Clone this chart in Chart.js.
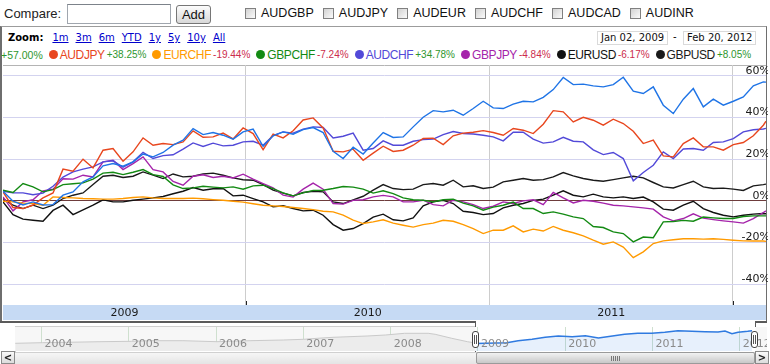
<!DOCTYPE html>
<html>
<head>
<meta charset="utf-8">
<title>AUDUSD compare</title>
<script src="https://cdn.jsdelivr.net/npm/chart.js@4.4.1/dist/chart.umd.min.js"></script>
<style>
  body { margin: 0; width: 770px; height: 364px; position: relative; overflow: hidden; background: #fff; font-family: Arial, "Liberation Sans", sans-serif; }
  .abs { position: absolute; }
  #compare { left: 4px; top: 6px; font-size: 13px; color: #222; }
  #box { left: 67px; top: 4px; width: 102px; height: 18px; border: 1px solid #a0a6ae; border-top-color: #7c828a; background: #fff; }
  #add { left: 176px; top: 5px; width: 33px; height: 17px; border: 1px solid #767676; border-radius: 3px; background: linear-gradient(#fcfcfc, #d8d8d8); font-size: 13px; text-align: center; line-height: 17px; color: #111; }
  #picks { left: 245px; top: 6px; display: flex; font-size: 12.5px; color: #111; }
  .pick { display: flex; align-items: center; margin-right: 9px; }
  .cb { width: 9px; height: 9px; border: 1px solid #808080; background: linear-gradient(135deg, #d2d2d2, #fbfbfb); margin-right: 5px; }
  #frame { left: 0; top: 26px; width: 764px; height: 295px; border-left: 2px solid #6e6e6e; border-top: 1px solid #9c9c9c; border-right: 1px solid #6e6e6e; }
  #zoomrow { left: 8px; top: 32px; display: flex; font-family: "DejaVu Sans", Verdana, sans-serif; font-size: 10px; }
  #zoomrow b { margin-right: 9px; color: #000; }
  #zoomrow a { color: #0000cc; text-decoration: underline; margin-right: 7px; }
  .datebox { top: 31px; height: 12px; border: 1px solid #dadada; font-family: "DejaVu Sans", Verdana, sans-serif; font-size: 10px; line-height: 12px; padding: 0 3px; color: #111; }
  #dash { left: 673px; top: 31px; font-family: "DejaVu Sans", sans-serif; font-size: 10px; }
  #legend { left: 1px; top: 48px; display: flex; align-items: center; white-space: nowrap; height: 13px; }
  .pct { font-size: 10px; }
  .dot { width: 9px; height: 9px; border-radius: 50%; margin: 0 2px 0 6px; }
  .nm { font-size: 12px; margin-right: 2px; letter-spacing: -0.4px; }
  #main { left: 0; top: 62px; }
  #nav { left: 15px; top: 327px; }
  .dark { background: #5a5a5a; }
  .navline { background: #cfcfcf; }
  #track { left: 15px; top: 352px; width: 740px; height: 11px; background: linear-gradient(#f6f6f6, #e4e4e4); border-top: 1px solid #d0d0d0; }
  .btn { top: 351px; width: 12px; height: 11px; border: 1px solid #8a8a8a; background: linear-gradient(#fafafa, #dcdcdc); font: bold 10px "DejaVu Sans", sans-serif; line-height: 11px; text-align: center; color: #222; }
  #thumb { left: 476px; top: 352px; width: 277px; height: 10px; border: 1px solid #9a9a9a; border-radius: 2px; background: linear-gradient(#f2f2f2, #c8c8c8); }
  #grip { left: 134px; top: 3px; width: 9px; height: 5px; background: repeating-linear-gradient(90deg, #777 0 1px, transparent 1px 2px); }
  .handle { top: 331px; width: 5px; height: 15px; border: 1px solid #444; border-radius: 3px; background: #fff; }
  .handle div { position: absolute; left: 1px; top: 3px; width: 3px; height: 9px; border-left: 1px solid #555; border-right: 1px solid #555; box-sizing: border-box; }
</style>
</head>
<body>
<div id="compare" class="abs">Compare:</div>
<div id="box" class="abs"></div>
<div id="add" class="abs">Add</div>
<div id="picks" class="abs"></div>

<div id="frame" class="abs"></div>
<div id="zoomrow" class="abs"><b>Zoom:</b><a>1m</a><a>3m</a><a>6m</a><a>YTD</a><a>1y</a><a>5y</a><a>10y</a><a>All</a></div>
<div class="abs datebox" style="left:597px">Jan 02, 2009</div>
<div id="dash" class="abs">-</div>
<div class="abs datebox" style="left:683px">Feb 20, 2012</div>
<div id="legend" class="abs"></div>

<canvas id="main" class="abs" width="768" height="260"></canvas>

<div class="abs dark" style="left:0;top:321px;width:476px;height:2px"></div>
<div class="abs dark" style="left:755px;top:321px;width:12px;height:2px"></div>
<div class="abs dark" style="left:475px;top:321px;width:1px;height:31px"></div>
<div class="abs dark" style="left:755px;top:321px;width:1px;height:31px"></div>
<div class="abs navline" style="left:15px;top:326px;width:460px;height:1px"></div>
<div class="abs navline" style="left:15px;top:326px;width:1px;height:26px"></div>

<canvas id="nav" class="abs" width="752" height="24"></canvas>

<div id="track" class="abs"></div>
<div class="abs btn" style="left:1px">&lt;</div>
<div id="thumb" class="abs"><div id="grip" class="abs"></div></div>
<div class="abs btn" style="left:755px">&gt;</div>
<div class="abs handle" style="left:472px"><div></div></div>
<div class="abs handle" style="left:751px"><div></div></div>

<script>
// ---- DATA ----
const compareSymbols = ["AUDGBP", "AUDJPY", "AUDEUR", "AUDCHF", "AUDCAD", "AUDINR"];

// days since Jan 02, 2009
const dayOffsets = [
  0, 15, 30, 45, 60, 75, 90, 105, 120, 135, 150, 165, 180, 195, 210, 225, 240, 255, 270,
  285, 300, 315, 330, 345, 360, 375, 390, 405, 420, 435, 450, 465, 480, 495, 510, 525, 540, 555, 570,
  585, 600, 615, 630, 645, 660, 675, 690, 705, 720, 735, 750, 765, 780, 795, 810, 825, 840, 855,
  870, 885, 900, 915, 930, 945, 960, 975, 990, 1005, 1020, 1035, 1050, 1065, 1080, 1095, 1110, 1125, 1140, 1144
];

const audusd = [
  4.6, -0.2, -2, -0.5, -2, -1.8, 2.7, 4.3, 9.1, 11.5, 16.8, 17.9, 16.6, 18.7, 22.5, 21.1, 23.2, 26.7, 29.1,
  34.7, 31.8, 32.8, 31.5, 29.6, 33.1, 34.4, 26.2, 31.2, 33.1, 32, 34.2, 35.2, 32.8, 23.8, 20.3, 25.7, 22.5, 27.8, 32.8,
  30.4, 30.7, 35.5, 40.1, 43.3, 42.7, 43.5, 41.1, 44.3, 47.8, 44.6, 44.3, 46.4, 47.8, 47.5, 49.7, 53.4, 59.2, 55.8,
  56, 55.2, 54.7, 55.8, 59.3, 52.6, 51.5, 54.7, 45.9, 41.9, 48.8, 53.9, 45.1, 48.8, 45.9, 47.8, 49.9, 55.2, 57.1, 57.0
];
const audjpy = [
  4.3, -3.2, -3.7, -2, 1.4, 3.8, 15.2, 14.2, 20, 15.8, 24.3, 25.1, 19, 23.5, 30.2, 26.7, 27.5, 27, 28.3,
  33.6, 30.5, 30.7, 32.5, 29.7, 35, 32.3, 24.6, 32, 30.2, 33.6, 38.8, 39.8, 35, 23.8, 23.5, 24.8, 19.5, 22.9, 26.2,
  23.7, 24.3, 26.7, 29.9, 30.1, 27, 31.2, 32.5, 32.9, 33.7, 32.8, 31.5, 34.7, 33.9, 32.3, 36.8, 43.3, 42.7, 37.9,
  40.1, 38.7, 36.3, 39.2, 37.1, 33.4, 27.5, 29.1, 21.6, 21.1, 27.5, 30.2, 25.9, 25.9, 24.3, 27, 28, 31.2, 36.3, 38.25
];
const eurchf = [
  -0.2, -0.5, -1.1, -1.3, -2.1, 1.9, 1.6, 1.4, 1.1, 1, 0.8, 0.8, 1.1, 1.6, 1.9, 1.4, 1.1, 1.1, 1.1,
  1.3, 1, 0.6, 0.3, -0.2, -0.6, -1.4, -2.1, -2.4, -2.7, -3.2, -3.7, -4.2, -5, -5.3, -6.9, -9.3, -10.9, -10.1, -9.1,
  -10.7, -11.7, -12.6, -11.4, -10.7, -9.3, -9.8, -11.4, -13.3, -15.7, -14.1, -14.1, -12, -14.9, -13.6, -14.5, -12.3, -14.1, -15.3,
  -16.8, -18.9, -20.8, -19.7, -22.2, -27.3, -24.5, -20.5, -19.2, -18.7, -18.2, -18.2, -18.4, -18.2, -18.5, -18.9, -19.2, -19.3, -19.3, -19.44
];
const gbpchf = [
  5.1, 4, 8.3, 6.7, 4.3, 5.4, 7.8, 8.2, 8.6, 10.4, 13.3, 13.7, 12.6, 13.7, 15, 12.6, 11.7, 7.7, 5.9,
  6.2, 7, 6.6, 6.2, 6.7, 5.6, 7.2, 7.5, 5.9, 3.8, 2.4, 3.8, 5, 5.1, 5.9, 6.9, 6.6, 5.6, 3.7, 4.8,
  3.5, 1.4, 0.5, 0.3, -0.5, 0.5, 0.8, -1.1, -2.4, -4.5, -3, -2.1, -0.6, -3.7, -3.7, -6.1, -5.3, -6.4, -7.7,
  -8.5, -12.3, -12.8, -14.9, -15.7, -19.7, -17.4, -17.7, -10.1, -9.9, -9.4, -9.8, -7.8, -8.2, -8.5, -8.5, -7.5, -7.2, -7.2, -7.24
];
const audchf = [
  4.6, 3.8, 3.8, 2.9, 3.7, 7, 11.4, 13.9, 15.2, 16.3, 18.7, 19.2, 16.1, 18.7, 23.3, 20.3, 21.7, 22.1, 24.8,
  27.8, 26.1, 27.7, 26.4, 26.7, 28.3, 28.6, 26.7, 31.3, 33.1, 32.5, 34.4, 35.5, 35.2, 30.2, 31, 32.5, 24.3, 25.1, 28.8,
  26.7, 26.7, 28.6, 29.4, 29.6, 31.8, 33.3, 32.3, 32.1, 31.5, 30.7, 28.8, 32.9, 32.9, 29.6, 27.7, 28.3, 30.5, 28.6,
  28.3, 24.5, 22.2, 23.2, 20.3, 9.6, 13.6, 17.1, 23.5, 20.3, 24.9, 25.1, 24.3, 28, 28.3, 29.9, 33.1, 34.1, 34.5, 34.78
];
const gbpjpy = [
  1.9, -4.8, -0.5, 0.5, 4.8, 5.6, 10.6, 10.4, 12.3, 11.5, 18.7, 19.5, 15, 17.9, 21.1, 15, 13.9, 9.3, 7.5,
  11.8, 12.5, 11.2, 11.8, 11, 12.8, 10.4, 8.3, 6.2, 2.7, 1.8, 5.6, 8.5, 5.6, -1.3, -1.6, 0.2, 0.5, 1.9, 2.6,
  1.9, -0.5, -0.5, 0.3, -1.8, -2.4, 0.3, -0.5, -1.8, -3.7, -2.6, -0.5, -1.3, 0, 0.5, -1.8, 4, 1.4, -1,
  0.3, -0.2, -1.1, -2.1, -2.4, -2.9, -3.4, -4, -7.7, -9.6, -8.5, -6.2, -8.3, -9, -9.6, -10.1, -10.7, -8.5, -5.6, -4.84
];
const eurusd = [
  -0.5, -6.6, -8.8, -9.3, -9.8, -4.6, -2.1, -6.6, -4.3, -2.1, 0.5, -0.5, -0.5, 0.3, 0.8, 1.4, 2.1, 3.4, 4.6,
  6.4, 5.1, 5.8, 5.9, 2.4, 2.7, 1.1, -0.5, -2.9, -2.4, -3.7, -4.8, -4.5, -6.9, -11.4, -14.1, -13.3, -10.9, -7.8, -6.4,
  -9.1, -9.6, -8.2, -2.4, -0.5, 0.2, -1.3, -5, -5.6, -6.6, -6.1, -3.4, -2.1, -1.3, 0.2, 0.8, 2.7, 4.8, 2.7,
  1.9, 3.2, 1.9, 1.4, 1.9, 1.1, 1.8, -0.5, -4, -4.5, -2.1, -0.2, -3.7, -5.6, -6.9, -7.7, -6.9, -6.4, -6.1, -6.17
];
const gbpusd = [
  1.1, -2.1, -3.7, -2.1, -3.7, -2.1, 1.1, 2.7, 3.8, 7.8, 11.8, 12.3, 11.2, 11.8, 13.9, 12.3, 10.7, 12.9, 11.5,
  11.8, 12.9, 13.3, 12.3, 11, 10.1, 9.9, 7.8, 5.1, 3.7, 2.4, 4, 4.6, 4.3, -0.5, -1.3, 0.5, 2.2, 5.1, 7.8,
  5.9, 5.4, 5.6, 7.8, 8.3, 7.5, 9.9, 6.7, 7.2, 5.9, 6.6, 9.1, 9.9, 10.7, 9.9, 10.2, 11.5, 13.6, 12,
  10.7, 9.9, 9.4, 10.2, 11, 11.8, 11, 8.8, 6.7, 6.2, 7.8, 9.4, 6.7, 5.9, 6.1, 5.6, 5, 7.2, 7.8, 8.05
];

const seriesNames = ["AUDUSD", "AUDJPY", "EURCHF", "GBPCHF", "AUDCHF", "GBPJPY", "EURUSD", "GBPUSD"];
const seriesValues = [audusd, audjpy, eurchf, gbpchf, audchf, gbpjpy, eurusd, gbpusd];
const seriesColors = ["#1f74e6", "#e8461e", "#ff9a00", "#138a13", "#5249d8", "#a524aa", "#111111", "#1a1a1a"];

const yTickValues = [-40, -20, 0, 20, 40, 60];
const yearStartDays = [364, 729, 1094];
const yearMidDays = [182, 547, 912];
const yearLabels = ["2009", "2010", "2011"];

// navigator (overview) – year positions and relative level
const navYears = [2004, 2005, 2006, 2007, 2008, 2009, 2010, 2011, 2012];
const navHistYears = [2003.70, 2004.01, 2004.29, 2004.67, 2005.03, 2005.24, 2005.62, 2006.01, 2006.39, 2006.77, 2007.0,
  2007.16, 2007.34, 2007.73, 2007.94, 2008.16, 2008.43, 2008.51, 2008.70, 2008.88, 2008.97];
const navHistLevels = [7.7, 8.3, 8.7, 9.3, 9.7, 10.3, 10.3, 9.3, 10.3, 11, 11.7, 12.7, 13.7, 15, 16, 17.7, 17.7, 16.7, 12.7, 9.3, 8];
const navSelYears = [2008.97, 2009.33, 2009.46, 2009.62, 2009.77, 2009.92, 2010.08, 2010.23, 2010.38, 2010.54, 2010.68, 2010.83,
  2010.99, 2011.14, 2011.29, 2011.45, 2011.6, 2011.75, 2011.83, 2011.91, 2011.98, 2012.09, 2012.14];
const navSelLevels = [7.5, 8.3, 10.3, 11.7, 13.7, 15, 14.3, 15.3, 13, 15, 16.7, 17.7, 17.7, 18.7, 20.3, 19.7, 19.3, 19, 20, 17.3, 18.7, 19.7, 20.3];
const navWindow = [2008.97, 2012.18];

// ---- TOP BAR ----
const picks = document.getElementById("picks");
compareSymbols.forEach((s) => {
  const p = document.createElement("div");
  p.className = "pick";
  p.innerHTML = `<div class="cb"></div><span>${s}</span>`;
  picks.appendChild(p);
});

// ---- LEGEND ----
const legend = document.getElementById("legend");
const fmt = (v) => (v >= 0 ? "+" : "") + v.toFixed(2) + "%";
seriesNames.forEach((name, i) => {
  const last = seriesValues[i][seriesValues[i].length - 1];
  if (i > 0) {
    const dot = document.createElement("span");
    dot.className = "dot";
    dot.style.background = seriesColors[i];
    legend.appendChild(dot);
    const nm = document.createElement("span");
    nm.className = "nm";
    nm.textContent = name;
    nm.style.color = seriesColors[i];
    legend.appendChild(nm);
  }
  const pct = document.createElement("span");
  pct.className = "pct";
  pct.textContent = fmt(last);
  pct.style.color = last >= 0 ? "#2e962e" : "#cc2c4c";
  if (i === 0) pct.style.fontSize = "10.5px";
  legend.appendChild(pct);
});

// scales must not push the plot area in for their labels
const noPad = (s) => {
  s.paddingTop = 0;
  s.paddingBottom = 0;
  s.paddingLeft = 0;
  s.paddingRight = 0;
};

// ---- MAIN CHART ----
const mainDecor = {
  id: "mainDecor",
  beforeDraw(chart) {
    const { ctx, chartArea: a, scales } = chart;
    const band = scales.xYear;
    ctx.save();
    ctx.fillStyle = "#c6daf4";
    ctx.fillRect(a.left, band.top, a.right - a.left, band.bottom - band.top);
    ctx.strokeStyle = "#b4b4b4";
    ctx.lineWidth = 1;
    ctx.beginPath();
    ctx.moveTo(a.left, a.top + 0.5);
    ctx.lineTo(a.right, a.top + 0.5);
    ctx.stroke();
    // short dark marks at the foot of each year line
    ctx.strokeStyle = "#222";
    ctx.beginPath();
    yearStartDays.forEach((d) => {
      const x = Math.round(scales.x.getPixelForValue(d)) + 0.5;
      ctx.moveTo(x, a.bottom - 4);
      ctx.lineTo(x, a.bottom);
    });
    ctx.stroke();
    ctx.restore();
  },
};

new Chart(document.getElementById("main"), {
  type: "line",
  data: {
    datasets: seriesNames.map((name, i) => ({
      label: name,
      data: dayOffsets.map((d, j) => ({ x: d, y: seriesValues[i][j] })),
      borderColor: seriesColors[i],
      borderWidth: 1.4,
      pointRadius: 0,
      tension: 0,
      fill: false,
    })),
  },
  options: {
    responsive: false,
    animation: false,
    devicePixelRatio: 1,
    layout: { padding: { left: 3, right: 2, top: 3, bottom: 2 } },
    plugins: { legend: { display: false }, tooltip: { enabled: false } },
    scales: {
      x: {
        type: "linear",
        min: 0,
        max: 1144,
        afterBuildTicks: (s) => { s.ticks = yearStartDays.map((v) => ({ value: v })); },
        grid: { color: "#cdcdcd", drawTicks: false },
        border: { display: false },
        ticks: { display: false },
        afterFit: (s) => { s.height = 0; noPad(s); },
      },
      xYear: {
        type: "linear",
        position: "bottom",
        min: 0,
        max: 1144,
        afterBuildTicks: (s) => { s.ticks = yearMidDays.map((v) => ({ value: v })); },
        grid: { display: false, drawTicks: false },
        border: { display: false },
        ticks: {
          callback: (v, i) => yearLabels[i],
          font: { family: "DejaVu Sans", size: 11 },
          color: "#1a1a1a",
          padding: 2,
          maxRotation: 0,
          autoSkip: false,
        },
        afterFit: (s) => { s.height = 15; noPad(s); },
      },
      y: {
        type: "linear",
        position: "right",
        min: -50,
        max: 65.2,
        afterBuildTicks: (s) => { s.ticks = yTickValues.map((v) => ({ value: v })); },
        grid: {
          color: (c) => (c.tick && c.tick.value === 0 ? "#6e3c3c" : "#d3d3ef"),
          drawTicks: false,
        },
        border: { display: false },
        ticks: {
          mirror: true,
          padding: 4,
          labelOffset: -5,
          font: { family: "DejaVu Sans", size: 11 },
          color: "#1a1a1a",
          callback: (v) => v + "%",
        },
        afterFit: (s) => { s.width = 0; noPad(s); },
      },
    },
  },
  plugins: [mainDecor],
});

// ---- NAVIGATOR ----
const navDecor = {
  id: "navDecor",
  beforeDraw(chart) {
    const { ctx, chartArea: a, scales } = chart;
    const x0 = scales.x.getPixelForValue(navWindow[0]);
    const x1 = scales.x.getPixelForValue(navWindow[1]);
    ctx.save();
    ctx.fillStyle = "#f7f7f7";
    ctx.fillRect(a.left, a.top, a.right - a.left, a.bottom - a.top);
    ctx.fillStyle = "#ffffff";
    ctx.fillRect(x0, a.top, x1 - x0, a.bottom - a.top);
    ctx.restore();
  },
  afterDraw(chart) {
    const { ctx, chartArea: a, scales } = chart;
    ctx.save();
    ctx.font = "11px 'DejaVu Sans'";
    ctx.fillStyle = "#8a8a8a";
    ctx.textBaseline = "middle";
    navYears.forEach((yr) => {
      ctx.fillText(String(yr), scales.x.getPixelForValue(yr) + 3, a.bottom - 7);
    });
    ctx.restore();
  },
};

new Chart(document.getElementById("nav"), {
  type: "line",
  data: {
    datasets: [
      {
        data: navHistYears.map((x, i) => ({ x, y: navHistLevels[i] })),
        borderColor: "#cacaca",
        backgroundColor: "#ececec",
        borderWidth: 1,
        pointRadius: 0,
        fill: "origin",
      },
      {
        data: navSelYears.map((x, i) => ({ x, y: navSelLevels[i] })),
        borderColor: "#2f7ae0",
        backgroundColor: "rgba(70,140,230,0.13)",
        borderWidth: 1.4,
        pointRadius: 0,
        fill: "origin",
      },
    ],
  },
  options: {
    responsive: false,
    animation: false,
    devicePixelRatio: 1,
    layout: { padding: 0 },
    plugins: { legend: { display: false }, tooltip: { enabled: false } },
    scales: {
      x: {
        type: "linear",
        min: 2003.697,
        max: 2012.311,
        afterBuildTicks: (s) => { s.ticks = navYears.map((v) => ({ value: v })); },
        grid: { color: "#cfe0cf", drawTicks: false },
        border: { display: false },
        ticks: { display: false },
        afterFit: (s) => { s.height = 0; noPad(s); },
      },
      y: { min: 0, max: 24, display: false },
    },
  },
  plugins: [navDecor],
});
</script>
</body>
</html>
